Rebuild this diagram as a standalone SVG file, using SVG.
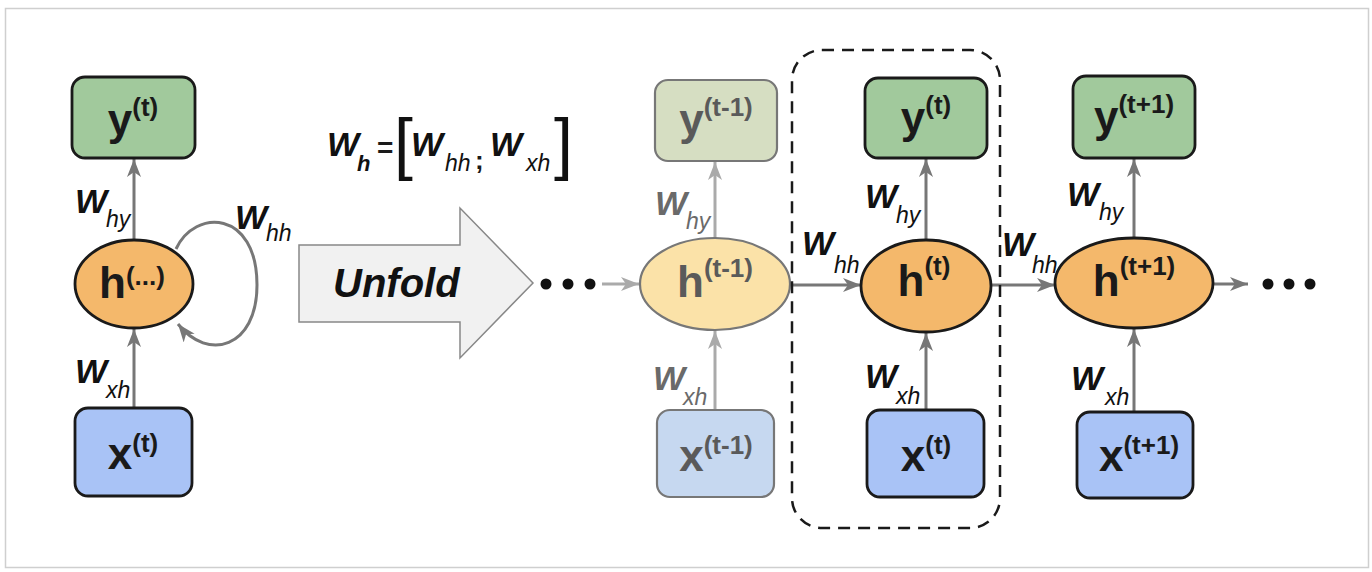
<svg xmlns="http://www.w3.org/2000/svg" width="1372" height="572" viewBox="0 0 1372 572">
<defs>
<marker id="ah" markerUnits="userSpaceOnUse" markerWidth="20" markerHeight="16" refX="18" refY="7" orient="auto"><path d="M0,0 L18,7 L0,14 L5,7 z" fill="#777"/></marker>
<marker id="ahf" markerUnits="userSpaceOnUse" markerWidth="20" markerHeight="16" refX="18" refY="7" orient="auto"><path d="M0,0 L18,7 L0,14 L5,7 z" fill="#aaa"/></marker>
</defs>
<style>
.box{stroke:#1a1a1a;stroke-width:2.8}
.fb{stroke:#777;stroke-width:2.2}
.g{fill:#a1c99c}.b{fill:#a9c3f6}.o{fill:#f4b86b}
.gf{fill:#d6dec2}.bf{fill:#c6d8f0}.of{fill:#fbe2a8}
.t{font-family:"Liberation Sans",Arial,sans-serif;font-weight:bold;font-size:44px;fill:#1a1a1a;text-anchor:middle}
.tf{fill:#5a5a5a}
.sup{font-size:26px}
.W{font-family:"Liberation Sans",Arial,sans-serif;font-weight:bold;font-style:italic;font-size:34px;fill:#111}
.s{font-family:"Liberation Sans",Arial,sans-serif;font-style:italic;font-size:23px;fill:#111}
.wf{fill:#6a6a6a}
.ar{stroke:#777;stroke-width:3;fill:none;marker-end:url(#ah)}
.arf{stroke:#aaa;stroke-width:3;fill:none;marker-end:url(#ahf)}
</style>
<rect x="0" y="0" width="1372" height="572" fill="#fff"/>
<rect x="5.5" y="8.5" width="1363" height="559" fill="#fff" stroke="#cfcfcf" stroke-width="1.5"/>

<g id="connectors">
<line class="ar" x1="134" y1="240" x2="134" y2="159"/>
<line class="ar" x1="134" y1="408" x2="134" y2="329"/>
<path class="ar" d="M176,249 C195,208 257,210 257,285 C257,348 208,362 178,324"/>
<line class="arf" x1="602" y1="284" x2="639" y2="284"/>
<line class="arf" x1="715" y1="238" x2="715" y2="162"/>
<line class="arf" x1="715" y1="410" x2="715" y2="331"/>
<line class="ar" x1="791" y1="285" x2="861" y2="285"/>
<line class="ar" x1="926" y1="240" x2="926" y2="159"/>
<line class="ar" x1="926" y1="410" x2="926" y2="333"/>
<line class="ar" x1="991" y1="285" x2="1055" y2="285"/>
<line class="ar" x1="1134" y1="238" x2="1134" y2="159"/>
<line class="ar" x1="1134" y1="412" x2="1134" y2="329"/>
<line class="ar" x1="1213" y1="284" x2="1248" y2="284"/>
</g>

<g id="unfold">
<polygon points="299,245 460,245 460,208 533,283 460,358 460,322 299,322" fill="#f1f1f1" stroke="#888" stroke-width="1.5"/>
<text x="333" y="297" class="W" style="font-size:40px">Unfold</text>
</g>

<g id="formula">
<text x="327" y="156" class="W">W</text>
<text x="357" y="171" class="W" style="font-size:22px">h</text>
<text x="377" y="157" class="t" style="font-size:28px;text-anchor:start">=</text>
<text x="394" y="167" font-family="Liberation Sans,Arial,sans-serif" font-size="68" fill="#111">[</text>
<text x="411" y="156" class="W">W</text>
<text x="445" y="171" class="s">hh</text>
<text x="475" y="169" class="t" style="font-size:26px;text-anchor:start">;</text>
<text x="490" y="156" class="W">W</text>
<text x="526" y="171" class="s">xh</text>
<text x="554" y="167" font-family="Liberation Sans,Arial,sans-serif" font-size="68" fill="#111">]</text>
</g>

<g id="dots-left"><circle cx="546" cy="284" r="5.5" fill="#111"/><circle cx="568" cy="284" r="5.5" fill="#111"/><circle cx="590" cy="284" r="5.5" fill="#111"/></g>
<g id="dots-right"><circle cx="1268" cy="284" r="5.5" fill="#111"/><circle cx="1289" cy="284" r="5.5" fill="#111"/><circle cx="1310" cy="284" r="5.5" fill="#111"/></g>

<g id="fold-y"><rect class="box g" x="72" y="77" width="123" height="81" rx="13"/><text class="t" x="133" y="135">y<tspan class="sup" dy="-19">(t)</tspan></text></g>
<g id="fold-h"><ellipse class="box o" cx="134" cy="284" rx="59" ry="44"/><text class="t" x="132" y="298">h<tspan class="sup" dy="-13">(...)</tspan></text></g>
<g id="fold-x"><rect class="box b" x="75" y="408" width="117" height="88" rx="13"/><text class="t" x="133" y="469">x<tspan class="sup" dy="-17">(t)</tspan></text></g>
<g id="fold-labels">
<text class="W" x="75" y="213">W</text><text class="s" x="106" y="227">hy</text>
<text class="W" x="75" y="383">W</text><text class="s" x="106" y="398">xh</text>
<text class="W" x="235" y="229">W</text><text class="s" x="266" y="241">hh</text>
</g>

<g id="y-tm1"><rect class="fb gf" x="655" y="80" width="122" height="81" rx="13"/><text class="t tf" x="716" y="135">y<tspan class="sup" dy="-19">(t-1)</tspan></text></g>
<g id="h-tm1"><ellipse class="fb of" cx="715" cy="284" rx="75" ry="46"/><text class="t tf" x="715" y="297">h<tspan class="sup" dy="-20">(t-1)</tspan></text></g>
<g id="x-tm1"><rect class="fb bf" x="657" y="410" width="117" height="87" rx="13"/><text class="t tf" x="716" y="471">x<tspan class="sup" dy="-17">(t-1)</tspan></text></g>
<g id="labels-tm1">
<text class="W wf" x="655" y="215">W</text><text class="s wf" x="686" y="229">hy</text>
<text class="W wf" x="653" y="390">W</text><text class="s wf" x="683" y="405">xh</text>
</g>

<g id="y-t"><rect class="box g" x="865" y="78" width="122" height="80" rx="13"/><text class="t" x="926" y="133">y<tspan class="sup" dy="-19">(t)</tspan></text></g>
<g id="h-t"><ellipse class="box o" cx="926" cy="286" rx="65" ry="46"/><text class="t" x="924" y="296">h<tspan class="sup" dy="-21">(t)</tspan></text></g>
<g id="x-t"><rect class="box b" x="867" y="410" width="117" height="87" rx="13"/><text class="t" x="926" y="471">x<tspan class="sup" dy="-17">(t)</tspan></text></g>
<g id="labels-t">
<text class="W" x="865" y="208">W</text><text class="s" x="896" y="223">hy</text>
<text class="W" x="865" y="388">W</text><text class="s" x="896" y="404">xh</text>
<text class="W" x="802" y="255">W</text><text class="s" x="834" y="273">hh</text>
</g>

<g id="y-tp1"><rect class="box g" x="1073" y="76" width="122" height="82" rx="13"/><text class="t" x="1134" y="132">y<tspan class="sup" dy="-19">(t+1)</tspan></text></g>
<g id="h-tp1"><ellipse class="box o" cx="1134" cy="283" rx="79" ry="45"/><text class="t" x="1134" y="296">h<tspan class="sup" dy="-21">(t+1)</tspan></text></g>
<g id="x-tp1"><rect class="box b" x="1077" y="412" width="116" height="86" rx="13"/><text class="t" x="1139" y="471">x<tspan class="sup" dy="-17">(t+1)</tspan></text></g>
<g id="labels-tp1">
<text class="W" x="1067" y="206">W</text><text class="s" x="1099" y="220">hy</text>
<text class="W" x="1071" y="390">W</text><text class="s" x="1105" y="405">xh</text>
<text class="W" x="1002" y="256">W</text><text class="s" x="1032" y="273">hh</text>
</g>

<g id="dashed-box"><rect x="792" y="50" width="208" height="478" rx="30" fill="none" stroke="#1a1a1a" stroke-width="2.5" stroke-dasharray="12 8"/></g>
</svg>
